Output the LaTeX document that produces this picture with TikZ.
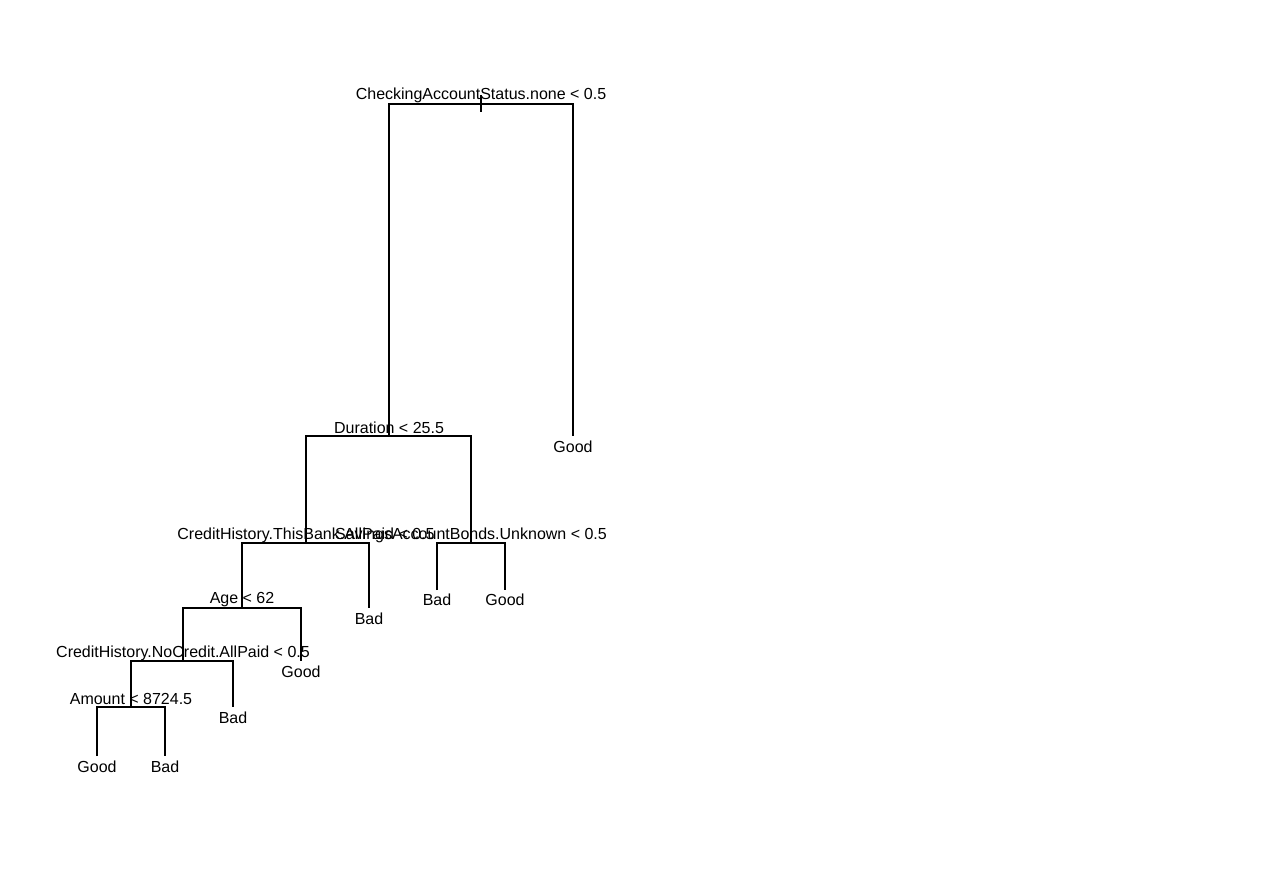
\documentclass[tikz,border=0pt]{standalone}
\usepackage{fontspec}
\setmainfont{Liberation Sans}
\begin{document}
\begin{tikzpicture}[x=1pt,y=-1pt,
  lbl/.style={anchor=base,inner sep=0pt,font=\fontsize{16}{19}\selectfont},
  edge/.style={draw=black,line width=1.2pt}]
\useasboundingbox (0,0) rectangle (1265,880);
\fill[white] (0,0) rectangle (1265,880);
% split points
\coordinate (r) at (481,104);
\coordinate (rt) at (481,95);
\coordinate (rb) at (481,112);
\coordinate (d) at (389,436);
\coordinate (g1) at (573,436);
\coordinate (c) at (306,543);
\coordinate (s) at (471,543);
\coordinate (a) at (242,608);
\coordinate (b1) at (369,608);
\coordinate (sb) at (437,590);
\coordinate (sg) at (505,590);
\coordinate (n) at (183,661);
\coordinate (g2) at (301,661);
\coordinate (m) at (131,707);
\coordinate (b2) at (233,707);
\coordinate (g3) at (97,756);
\coordinate (b3) at (165,756);
% edges
\draw[edge] (rt) -- (rb);
\draw[edge] (d) |- (r) -| (g1);
\draw[edge] (c) |- (d) -| (s);
\draw[edge] (a) |- (c) -| (b1);
\draw[edge] (sb) |- (s) -| (sg);
\draw[edge] (n) |- (a) -| (g2);
\draw[edge] (m) |- (n) -| (b2);
\draw[edge] (g3) |- (m) -| (b3);
% labels
\node[lbl] (lr) at (481,100) {CheckingAccountStatus.none < 0.5};
\node[lbl] (ld) at (389,433) {Duration < 25.5};
\node[lbl] (lg1) at (573,452) {Good};
\node[lbl] (lc) at (306,539) {CreditHistory.ThisBank.AllPaid < 0.5};
\node[lbl] (ls) at (471,539) {SavingsAccountBonds.Unknown < 0.5};
\node[lbl] (la) at (242,603) {Age < 62};
\node[lbl] (lb1) at (369,624) {Bad};
\node[lbl] (lsb) at (437,605) {Bad};
\node[lbl] (lsg) at (505,605) {Good};
\node[lbl] (ln) at (183,657) {CreditHistory.NoCredit.AllPaid < 0.5};
\node[lbl] (lg2) at (301,677) {Good};
\node[lbl] (lm) at (131,704) {Amount < 8724.5};
\node[lbl] (lb2) at (233,723) {Bad};
\node[lbl] (lg3) at (97,772) {Good};
\node[lbl] (lb3) at (165,772) {Bad};
\end{tikzpicture}
\end{document}
